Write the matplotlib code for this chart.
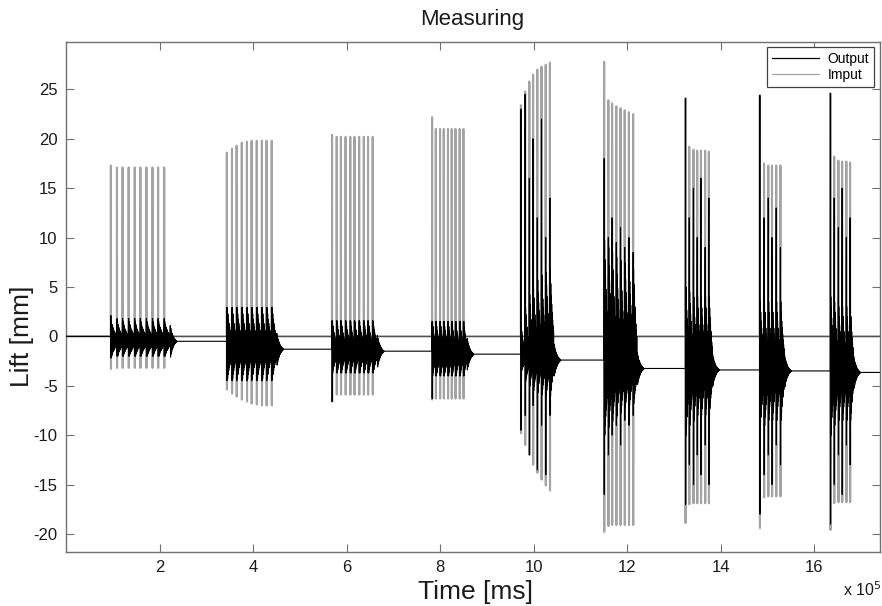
import numpy as np
import matplotlib
matplotlib.use("Agg")
import matplotlib.pyplot as plt
from matplotlib.lines import Line2D

plt.rcParams['font.family'] = ['Liberation Sans', 'DejaVu Sans']

# ---------------- data (time in units of 1e5 ms, lift in mm) ----------------
SCALE = 1e5
pulse_times = [
    [0.96, 1.09, 1.21, 1.34, 1.47, 1.59, 1.72, 1.85, 1.97, 2.10],
    [3.44, 3.55, 3.65, 3.76, 3.87, 3.97, 4.08, 4.19, 4.29, 4.40],
    [5.69, 5.79, 5.88, 5.98, 6.08, 6.17, 6.27, 6.37, 6.46, 6.56],
    [7.83, 7.91, 8.00, 8.08, 8.17, 8.25, 8.33, 8.42, 8.50],
    [9.73, 9.82, 9.91, 9.99, 10.08, 10.17, 10.26, 10.35],
    [11.51, 11.60, 11.68, 11.77, 11.86, 11.95, 12.04, 12.13],
    [13.25, 13.33, 13.42, 13.50, 13.58, 13.67, 13.75],
    [14.84, 14.93, 15.02, 15.10, 15.19, 15.28],
    [16.35, 16.43, 16.52, 16.60, 16.69, 16.77],
]
# input pulse peaks
in_hi = [
    [17.3, 17.1, 17.1, 17.1, 17.1, 17.1, 17.1, 17.1, 17.1, 17.1],
    [18.6, 19.0, 19.3, 19.6, 19.7, 19.8, 19.8, 19.8, 19.8, 19.8],
    [20.4, 20.2, 20.2, 20.2, 20.2, 20.2, 20.2, 20.2, 20.2, 20.2],
    [22.2, 21.0, 21.0, 21.0, 21.0, 21.0, 21.0, 21.0, 21.0],
    [23.4, 24.8, 25.8, 26.5, 27.0, 27.3, 27.5, 27.7],
    [27.8, 23.9, 23.6, 23.3, 23.1, 22.9, 22.7, 22.5],
    [24.1, 19.2, 18.9, 18.8, 18.8, 18.8, 18.7],
    [24.4, 17.5, 17.3, 17.3, 17.3, 17.3],
    [24.6, 18.2, 17.8, 17.7, 17.7, 17.6],
]
in_lo = [
    [-3.3, -3.2, -3.2, -3.2, -3.2, -3.2, -3.2, -3.2, -3.2, -3.2],
    [-5.4, -5.8, -6.1, -6.4, -6.6, -6.8, -6.9, -7.0, -7.0, -7.0],
    [-6.6, -5.9, -5.9, -5.9, -5.9, -5.9, -5.9, -5.9, -5.9, -5.9],
    [-6.4, -6.3, -6.3, -6.3, -6.3, -6.3, -6.3, -6.3, -6.3],
    [-9.8, -11.0, -12.0, -13.0, -13.8, -14.5, -15.1, -15.6],
    [-19.8, -19.2, -19.1, -19.1, -19.1, -19.1, -19.1, -19.1],
    [-18.9, -17.0, -16.9, -16.9, -16.9, -16.9, -16.9],
    [-19.4, -16.3, -16.2, -16.2, -16.2, -16.2],
    [-19.6, -16.9, -16.8, -16.8, -16.8, -16.8],
]
# output spike peaks at each pulse
out_pk_hi = [
    [2.1, 1.8, 1.8, 1.8, 1.8, 1.8, 1.8, 1.8, 1.8, 1.8],
    [2.9, 2.9, 2.9, 2.9, 2.9, 2.9, 2.9, 2.9, 2.9, 2.9],
    [1.6, 1.6, 1.6, 1.6, 1.6, 1.6, 1.6, 1.6, 1.6, 1.6],
    [1.5, 1.5, 1.5, 1.5, 1.5, 1.5, 1.5, 1.5, 1.5],
    [23.0, 24.5, 16.0, 20.0, 12.0, 22.0, 10.0, 14.0],
    [18.0, 10.0, 12.0, 9.5, 11.0, 9.0, 10.0, 8.5],
    [24.1, 12.0, 15.0, 10.0, 16.0, 9.0, 14.0],
    [24.4, 12.0, 14.0, 10.0, 13.0, 9.0],
    [24.6, 14.0, 11.0, 15.0, 10.0, 12.0],
]
out_pk_lo = [
    [-2.2, -2.0, -2.0, -2.0, -2.0, -2.0, -2.0, -2.0, -2.0, -2.0],
    [-4.5, -4.5, -4.5, -4.5, -4.5, -4.5, -4.5, -4.5, -4.5, -4.5],
    [-6.6, -3.7, -3.7, -3.7, -3.7, -3.7, -3.7, -3.7, -3.7, -3.7],
    [-6.3, -4.0, -4.0, -4.0, -4.0, -4.0, -4.0, -4.0, -4.0],
    [-9.5, -8.0, -12.0, -7.0, -13.5, -9.0, -14.0, -8.0],
    [-16.0, -12.0, -10.0, -9.0, -11.0, -8.5, -9.0, -8.0],
    [-17.0, -13.0, -15.0, -12.0, -14.0, -11.0, -15.0],
    [-18.0, -14.0, -12.0, -15.0, -11.0, -13.0],
    [-19.0, -15.0, -12.0, -16.0, -11.0, -13.0],
]
# output ringing envelope between pulses
out_ring_hi = [
    [1.5, 1.5, 1.5, 1.5, 1.5, 1.5, 1.5, 1.5, 1.5, 1.5],
    [2.9, 2.9, 2.9, 2.9, 2.9, 2.9, 2.9, 2.9, 2.9, 2.9],
    [1.5, 1.5, 1.5, 1.5, 1.5, 1.5, 1.5, 1.5, 1.5, 1.5],
    [1.5, 1.5, 1.5, 1.5, 1.5, 1.5, 1.5, 1.5, 1.5],
    [1.0, 3.0, 4.2, 5.0, 5.7, 6.2, 6.5, 6.7],
    [9.7, 9.0, 8.5, 8.0, 7.7, 7.4, 7.1, 6.8],
    [5.0, 4.5, 4.0, 4.0, 4.0, 4.0, 4.0],
    [3.5, 3.5, 3.5, 3.5, 3.5, 3.5],
    [4.0, 3.5, 3.0, 3.0, 3.0, 3.0],
]
out_ring_lo = [
    [-2.0, -2.0, -2.0, -2.0, -2.0, -2.0, -2.0, -2.0, -2.0, -2.0],
    [-4.3, -4.3, -4.3, -4.3, -4.3, -4.3, -4.3, -4.3, -4.3, -4.3],
    [-3.7, -3.7, -3.7, -3.7, -3.7, -3.7, -3.7, -3.7, -3.7, -3.7],
    [-4.0, -4.0, -4.0, -4.0, -4.0, -4.0, -4.0, -4.0, -4.0],
    [-3.5, -4.5, -5.0, -5.5, -5.7, -5.9, -6.0, -6.0],
    [-10.0, -9.2, -8.6, -8.1, -7.7, -7.3, -7.0, -6.8],
    [-10.0, -9.0, -8.5, -8.0, -8.0, -8.0, -8.0],
    [-9.0, -9.0, -8.5, -8.5, -8.5, -8.5],
    [-10.0, -9.0, -8.5, -8.5, -8.5, -8.5],
]
# output baseline level before the first burst and after each burst
out_levels = [0.0, -0.5, -1.3, -1.5, -1.8, -2.4, -3.25, -3.4, -3.5, -3.65]
x_end = 17.41
# ring-down shape (relative amplitudes) within each pulse interval and after a burst
ring_shape = [1.0, 0.85, 0.72, 0.62, 0.53, 0.45, 0.38, 0.32]
tail_amp = [1.6, 1.3, 1.05, 0.85, 0.7, 0.55, 0.42, 0.32, 0.24, 0.17, 0.11, 0.06]

xtick_vals = [2, 4, 6, 8, 10, 12, 14, 16]
xtick_labels = ['2', '4', '6', '8', '10', '12', '14', '16']
ytick_vals = [-20, -15, -10, -5, 0, 5, 10, 15, 20, 25]
ytick_labels = ['-20', '-15', '-10', '-5', '0', '5', '10', '15', '20', '25']

# ---------------- build the two signals ----------------
d = 0.002
ti, yi = [0.0], [0.0]
to, yo = [0.0], [out_levels[0]]
for b, times in enumerate(pulse_times):
    base0 = out_levels[b]
    base = out_levels[b + 1]
    to.append(times[0] - d); yo.append(base0)
    n = len(times)
    step = times[1] - times[0]
    for i, t in enumerate(times):
        # input pulse
        ti += [t - d, t, t + d, t + 2 * d]
        yi += [0.0, in_hi[b][i], in_lo[b][i], 0.0]
        # output spike
        to += [t, t + d]
        yo += [out_pk_hi[b][i], out_pk_lo[b][i]]
        t_next = times[i + 1] if i + 1 < n else t + step
        span = t_next - t - 3 * d
        m = len(ring_shape)
        for j, s in enumerate(ring_shape):
            ta = t + 2 * d + span * (2 * j + 1) / (2 * m + 1)
            tb = t + 2 * d + span * (2 * j + 2) / (2 * m + 1)
            to += [ta, tb]
            yo += [base + s * (out_ring_hi[b][i] - base),
                   base + s * (out_ring_lo[b][i] - base)]
    t0 = times[-1] + step
    for k, a in enumerate(tail_amp):
        to += [t0 + 0.006 * (2 * k), t0 + 0.006 * (2 * k + 1)]
        yo += [base + a, base - a]
    to.append(t0 + 0.006 * 2 * len(tail_amp)); yo.append(base)
ti.append(x_end); yi.append(0.0)
to.append(x_end); yo.append(out_levels[-1])

ti = np.array(ti) * SCALE
to = np.array(to) * SCALE

# ---------------- figure ----------------
fig = plt.figure(figsize=(8.82, 6.06), dpi=100)
ax = fig.add_axes([66 / 882, 1 - 551.7 / 606, (880 - 66) / 882, (551.7 - 42) / 606])

ax.plot(ti, yi, color='#a3a3a3', lw=1.5, zorder=2)
ax.plot(to, yo, color='black', lw=0.8, zorder=3)
# thin dark trace of the input's zero level, as it appears in the reference
ax.plot(ti, np.where(np.array(yi) == 0.0, 0.0, np.nan), color='#505050', lw=0.8, zorder=2.5)

ax.set_xlim(0, x_end * SCALE)
ax.set_ylim(-21.8, 29.8)
ax.set_xticks([v * SCALE for v in xtick_vals])
ax.set_xticklabels(xtick_labels)
ax.set_yticks(ytick_vals)
ax.set_yticklabels(ytick_labels)
ax.tick_params(direction='in', length=6, width=0.8, top=True, right=True,
               color='#707070', labelsize=12, labelcolor='#1a1a1a', pad=6)
for sp in ax.spines.values():
    sp.set_color('#707070')
    sp.set_linewidth(1.0)

fig.text(472.5 / 882, 1 - 20 / 606, 'Measuring', ha='center', va='center',
         fontsize=16, color='#1a1a1a')
fig.text(475 / 882, 1 - 592 / 606, 'Time [ms]', ha='center', va='center',
         fontsize=19, color='#1a1a1a')
fig.text(22 / 882, 1 - 336 / 606, 'Lift [mm]', ha='center', va='center',
         rotation=90, fontsize=19, color='#1a1a1a')
fig.text(843 / 882, 1 - 590 / 606, 'x 10$^{5}$', ha='left', va='center',
         fontsize=11.5, color='#1a1a1a')

handles = [Line2D([], [], color='black', lw=0.9),
           Line2D([], [], color='#a3a3a3', lw=0.9)]
leg = ax.legend(handles, ['Output', 'Imput'], loc='upper right',
                bbox_to_anchor=(1 - 6 / 814, 1 - 5 / 509.7),
                borderaxespad=0, fancybox=False, framealpha=1,
                edgecolor='#404040', fontsize=10, handlelength=3.4,
                handletextpad=0.6, borderpad=0.35, labelspacing=0.15)
leg.get_frame().set_linewidth(0.9)

fig.savefig('out.png', dpi=100)
